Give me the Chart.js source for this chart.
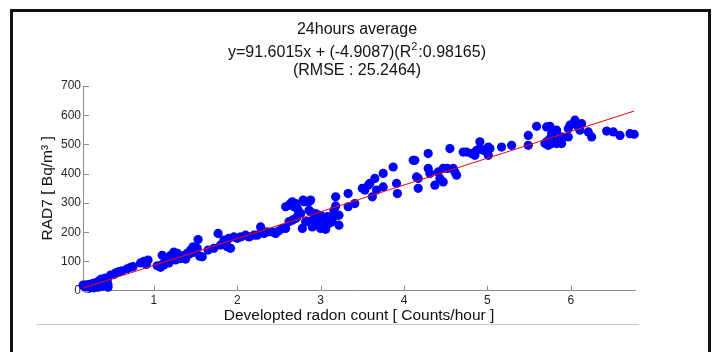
<!DOCTYPE html>
<html>
<head>
<meta charset="utf-8">
<script src="https://cdn.jsdelivr.net/npm/chart.js@4"></script>
<style>
  html, body { margin: 0; padding: 0; background: #fff; }
  #wrap { position: relative; width: 714px; height: 352px; overflow: hidden; }
  #frame { position: absolute; left: 10px; top: 9px; width: 695px; height: 400px; border: 3px solid #111; }
  #rule { position: absolute; left: 36px; top: 324px; width: 603px; height: 1px; background: #c8c8c8; }
  canvas { position: absolute; left: 0; top: 0; }
</style>
</head>
<body>
<div id="wrap">
  <div id="frame"></div>
  <div id="rule"></div>
  <canvas id="chart" width="714" height="352"></canvas>
</div>
<script>
// values
const titleTop = "24hours average";
const titleEq = ["y=91.6015x + (-4.9087)(R", "2", ":0.98165)"];  // middle piece is superscript
const titleBottom = "(RMSE : 25.2464)";

const radonCount = [
  0.15, 0.17, 0.19, 0.21, 0.23, 0.25, 0.27, 0.29, 0.31, 0.33, 0.35, 0.37, 0.40, 0.42, 0.44, 0.45, 0.45, 0.38, 0.33, 0.28, 0.22, 0.18, 0.41,
  0.48, 0.52, 0.55, 0.58, 0.62, 0.68, 0.72, 0.75, 0.84, 0.88, 0.93, 0.91,
  1.04, 1.08, 1.10, 1.14, 1.16, 1.20, 1.24, 1.28, 1.32, 1.36, 1.40, 1.44, 1.47, 1.50, 1.53, 1.52, 1.55, 1.58,
  1.10, 1.24, 1.12, 1.18, 1.26, 1.30, 1.34, 1.38, 1.42, 1.46,
  1.65, 1.72, 1.77, 1.80, 1.83, 1.87, 1.88, 1.92, 1.96, 1.84, 1.90,
  2.00, 2.04, 2.10, 2.14, 2.20, 2.24, 2.28, 2.32, 2.36, 2.42, 2.46, 2.50, 2.54, 2.58, 2.62, 2.66, 2.70, 2.72,
  2.58, 2.62, 2.66, 2.70, 2.72, 2.73, 2.64, 2.68, 2.79, 2.86, 2.78, 2.82, 2.76,
  2.80, 2.88, 2.88, 2.86, 2.94, 2.96, 2.98, 3.00, 3.02, 3.04, 3.06, 3.08, 3.12, 3.14, 3.16, 3.16, 3.18, 3.20,
  3.22, 3.18, 3.22, 2.92, 2.90, 3.08, 3.00, 3.04, 2.96, 3.10, 3.14, 3.00, 3.06, 2.90, 2.86,
  3.33, 3.33, 3.41, 3.50, 3.53, 3.57, 3.59, 3.62, 3.65, 3.67, 3.75, 3.75, 3.87, 3.91, 3.92, 4.11, 4.13, 4.15, 4.17, 4.17,
  4.29, 4.29, 4.31, 4.37, 4.41, 4.43, 4.47, 4.47, 4.52, 4.55, 4.59, 4.61, 4.63, 4.71, 4.75, 4.81, 4.85, 4.87,
  4.91, 4.91, 4.95, 5.01, 5.01, 5.03, 5.17, 5.29,
  5.49, 5.49, 5.59, 5.69, 5.71, 5.71, 5.73, 5.75, 5.75, 5.77, 5.77, 5.79, 5.79, 5.83, 5.83, 5.89, 5.89,
  5.97, 5.97, 5.99, 6.03, 6.05, 6.09, 6.11, 6.13, 6.21, 6.25, 6.43, 6.51, 6.59, 6.71, 6.76
];
const rad7 = [
  19, 15, 20, 18, 22, 20, 25, 22, 28, 30, 35, 40, 38, 43, 35, 20, 12, 15, 12, 10, 8, 10, 28,
  53, 55, 62, 65, 68, 75, 80, 82, 95, 100, 105, 90,
  85, 80, 90, 99, 110, 120, 116, 128, 110, 120, 128, 139, 150, 135, 175, 145, 118, 116,
  121, 132, 88, 95, 105, 112, 118, 108, 125, 130,
  139, 145, 196, 156, 162, 167, 150, 145, 184, 173, 179,
  179, 184, 190, 184, 190, 190, 218, 196, 201, 201, 196, 205, 213, 213, 236, 241, 247, 253,
  287, 292, 304, 298, 281, 275, 298, 287, 310, 304, 213, 236, 264,
  304, 310, 270, 275, 264, 253, 247, 241, 230, 224, 218, 236, 241, 253, 264, 275, 290, 258,
  258, 321, 224, 236, 241, 253, 258, 247, 230, 230, 236, 213, 210, 218, 236,
  332, 287, 298, 350, 344, 361, 367, 321, 384, 344, 401, 355, 423, 367, 332, 446, 446, 389, 384, 350,
  469, 418, 401, 361, 406, 384, 372, 418, 418, 486, 418, 406, 395, 474, 474, 469, 463, 480,
  509, 486, 480, 491, 463, 486, 491, 497,
  531, 497, 562, 503, 560, 509, 497, 562, 520, 537, 503, 514, 526, 503, 549, 503, 526,
  526, 554, 566, 571, 583, 560, 549, 571, 543, 526, 546, 543, 531, 537, 535
];

// fitted line end points (from the equation in the title)
const fitX = [0.15, 6.76];
const fitY = [8.8, 614.3];

const xTicks = [1, 2, 3, 4, 5, 6];
const yTicks = [0, 100, 200, 300, 400, 500, 600, 700];

const axisGray = "#8c8c8c";
const font = "'Liberation Sans', Arial, sans-serif";

const scatterPts = radonCount.map((x, i) => ({ x: x, y: rad7[i] }));
const fitPts = fitX.map((x, i) => ({ x: x, y: fitY[i] }));

// inward tick marks like matlab axes, plus the title block
const matlabAxes = {
  id: "matlabAxes",
  afterDraw(chart) {
    const ctx = chart.ctx;
    const xs = chart.scales.x, ys = chart.scales.y;
    const area = chart.chartArea;
    ctx.save();
    ctx.strokeStyle = axisGray;
    ctx.lineWidth = 1;
    ctx.beginPath();
    xTicks.forEach(v => {
      const px = Math.round(xs.getPixelForValue(v)) + 0.5;
      ctx.moveTo(px, area.bottom);
      ctx.lineTo(px, area.bottom - 5);
    });
    yTicks.forEach(v => {
      const py = Math.round(ys.getPixelForValue(v)) + 0.5;
      ctx.moveTo(area.left, py);
      ctx.lineTo(area.left + 6, py);
    });
    ctx.stroke();

    ctx.fillStyle = "#111";
    ctx.textBaseline = "middle";
    const mid = chart.width / 2;
    const big = "16px " + font, small = "11px " + font;
    ctx.textAlign = "center";
    ctx.font = big;
    ctx.fillText(titleTop, mid, 30);
    ctx.fillText(titleBottom, mid, 71);

    // equation line with a raised 2
    ctx.textAlign = "left";
    const w0 = ctx.measureText(titleEq[0]).width;
    const w2 = ctx.measureText(titleEq[2]).width;
    ctx.font = small;
    const w1 = ctx.measureText(titleEq[1]).width + 1;
    let x = mid - (w0 + w1 + w2) / 2;
    ctx.font = big;
    ctx.fillText(titleEq[0], x, 53);
    x += w0;
    ctx.font = small;
    ctx.fillText(titleEq[1], x, 47);
    x += w1;
    ctx.font = big;
    ctx.fillText(titleEq[2], x, 53);
    ctx.restore();
  }
};

new Chart(document.getElementById("chart"), {
  type: "scatter",
  data: {
    datasets: [
      {
        type: "line",
        data: fitPts,
        borderColor: "#ff0000",
        borderWidth: 1,
        pointRadius: 0,
        fill: false
      },
      {
        data: scatterPts,
        backgroundColor: "#0000ff",
        borderWidth: 0,
        pointRadius: 4.6,
        clip: false
      }
    ]
  },
  options: {
    responsive: false,
    animation: false,
    devicePixelRatio: 1,
    layout: { padding: { top: 86, right: 79, bottom: 0, left: 0 } },
    plugins: { legend: { display: false }, tooltip: { enabled: false } },
    scales: {
      x: {
        type: "linear",
        min: 0.15,
        max: 6.77,
        grid: { display: false, drawTicks: false },
        border: { display: true, color: axisGray },
        ticks: { stepSize: 1, includeBounds: false, padding: 3, color: "#262626", font: { family: font, size: 12 } },
        title: { display: true, text: "Developted radon count [ Counts/hour ]", color: "#111",
                 font: { family: font, size: 15.5 }, padding: { top: 0, bottom: 27 } },
        afterFit(s) { s.height = 61.3; }
      },
      y: {
        min: 0,
        max: 700,
        grid: { display: false, drawTicks: false },
        border: { display: true, color: axisGray },
        ticks: { stepSize: 100, padding: 2, color: "#262626", font: { family: font, size: 12 } },
        title: { display: true, text: "RAD7 [ Bq/m³ ]", color: "#111",
                 font: { family: font, size: 15.5 }, padding: { top: 38.5, bottom: 0 } },
        afterFit(s) { s.width = 83; }
      }
    }
  },
  plugins: [matlabAxes]
});
</script>
</body>
</html>
